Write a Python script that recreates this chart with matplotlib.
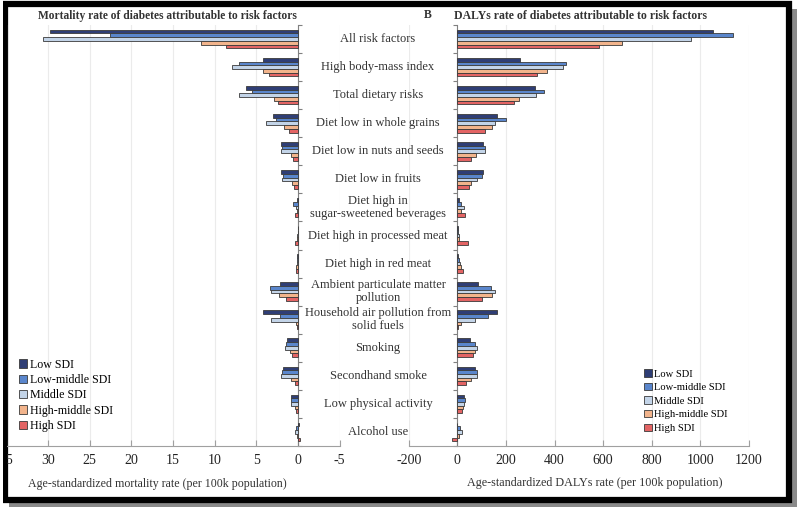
import matplotlib
matplotlib.use('Agg')
import matplotlib.pyplot as plt
from matplotlib.patches import Rectangle
from matplotlib.transforms import blended_transform_factory
import numpy as np

plt.rcParams['font.family'] = ['Liberation Serif', 'DejaVu Serif']
plt.rcParams['axes.unicode_minus'] = False

categories = [
    "All risk factors",
    "High body-mass index",
    "Total dietary risks",
    "Diet low in whole grains",
    "Diet low in nuts and seeds",
    "Diet low in fruits",
    "Diet high in\nsugar-sweetened beverages",
    "Diet high in processed meat",
    "Diet high in red meat",
    "Ambient particulate matter\npollution",
    "Household air pollution from\nsolid fuels",
    "Smoking",
    "Secondhand smoke",
    "Low physical activity",
    "Alcohol use",
]
groups = ["Low SDI", "Low-middle SDI", "Middle SDI", "High-middle SDI", "High SDI"]
colors = ["#2F3E75", "#5A86CC", "#C3D4E8", "#F2B48C", "#E36464"]

# Age-standardized mortality rate (per 100k)
mort_low = [29.8, 4.2, 6.2, 3.0, 2.0, 2.0, 0.1, 0.05, 0.1, 2.2, 4.2, 1.3, 1.8, 0.8, -0.1]
mort_lowmid = [22.6, 7.1, 5.5, 2.6, 1.9, 1.8, 0.55, 0.05, 0.1, 3.4, 2.2, 1.4, 1.9, 0.8, 0.25]
mort_mid = [30.6, 7.9, 7.1, 3.8, 2.1, 1.9, 0.2, 0.1, 0.1, 3.3, 3.2, 1.6, 2.0, 0.9, 0.4]
mort_highmid = [11.6, 4.2, 2.9, 1.7, 0.9, 0.7, 0.1, 0.1, 0.2, 2.3, 0.3, 1.0, 0.9, 0.4, 0.1]
mort_high = [8.6, 3.5, 2.4, 1.1, 0.6, 0.5, 0.35, 0.4, 0.3, 1.4, 0.1, 0.7, 0.4, 0.3, -0.2]

# Age-standardized DALYs rate (per 100k)
daly_low = [1053, 258, 320, 165, 104, 104, 8, 3, 3, 87, 162, 52, 73, 27, -2]
daly_lowmid = [1133, 447, 358, 199, 114, 100, 15, 3, 8, 137, 127, 73, 82, 32, 10]
daly_mid = [960, 436, 322, 155, 112, 80, 29, 5, 12, 155, 72, 80, 82, 27, 18]
daly_highmid = [676, 368, 255, 141, 76, 58, 15, 5, 16, 144, 17, 73, 55, 22, 8]
daly_high = [583, 327, 235, 114, 55, 47, 32, 42, 22, 103, 3, 63, 34, 19, -20]

mort_ticks = [35, 30, 25, 20, 15, 10, 5, 0, -5]
daly_ticks = [-200, 0, 200, 400, 600, 800, 1000, 1200]

mort = [mort_low, mort_lowmid, mort_mid, mort_highmid, mort_high]
daly = [daly_low, daly_lowmid, daly_mid, daly_highmid, daly_high]

W, H = 800, 512
fig = plt.figure(figsize=(8, 5.12), dpi=100)

def fx(px):
    return px / W

def fy(py):
    return 1 - py / H

# outer frame with drop shadow (behind the axes)
fig.patches.append(Rectangle((fx(9), fy(507)), fx(797) - fx(9), fy(9) - fy(507),
                             transform=fig.transFigure, facecolor='#8A8A8A',
                             edgecolor='none', zorder=-3))
fig.patches.append(Rectangle((fx(5), fy(500)), fx(789) - fx(5), fy(4) - fy(500),
                             transform=fig.transFigure, facecolor='white',
                             edgecolor='black', linewidth=4.5, zorder=-2))

ax_top, ax_bot = 25, 446
ax1 = fig.add_axes([fx(6.4), fy(ax_bot), fx(339.7 - 6.4), (ax_bot - ax_top) / H])
ax2 = fig.add_axes([fx(408.7), fy(ax_bot), fx(749 - 408.7), (ax_bot - ax_top) / H])

n = len(categories)
y = np.arange(n)
bh = 0.133
offsets = (np.arange(5) - 2) * bh

for ax, data, ticks in ((ax1, mort, mort_ticks), (ax2, daly, daly_ticks)):
    ax.patch.set_visible(False)
    for i, vals in enumerate(data):
        ax.barh(y + offsets[i], vals, height=bh, color=colors[i],
                edgecolor="#3A3A3A", linewidth=0.6, label=groups[i], zorder=3)
    ax.set_ylim(n - 0.5, -0.5)
    ax.set_yticks(np.arange(n + 1) - 0.5)
    ax.set_yticklabels([])
    ax.spines['top'].set_visible(False)
    ax.spines['right'].set_visible(False)
    ax.spines['left'].set_position(('data', 0))
    ax.spines['left'].set_color('#808080')
    ax.spines['left'].set_linewidth(0.8)
    ax.spines['bottom'].set_color('#A0A0A0')
    ax.spines['bottom'].set_linewidth(0.8)
    ax.grid(axis='x', color='#EBEBEB', linewidth=0.8, zorder=0)
    ax.set_xticks(ticks)
    ax.set_xticklabels([str(t) for t in ticks], fontfamily='Liberation Serif',
                       fontsize=10, color='#222222')
    ax.tick_params(axis='x', direction='in', length=4, color='#A0A0A0', pad=6)
    ax.set_axisbelow(True)

ax1.set_xlim(35, -5)
ax1.tick_params(axis='y', direction='in', length=3, color='#808080')
ax2.set_xlim(-200, 1200)
ax2.tick_params(axis='y', direction='out', length=3, color='#808080')

# white mask to the left of the frame (hides the clipped "35" tick label part)
fig.patches.append(Rectangle((0, 0), fx(3), 1, transform=fig.transFigure,
                             facecolor='white', edgecolor='none', zorder=9))
fig.patches.append(Rectangle((fx(3), fy(500)), fx(4), fy(4) - fy(500),
                             transform=fig.transFigure, facecolor='black',
                             edgecolor='none', zorder=10))

# category labels in the middle column
tr = blended_transform_factory(fig.transFigure, ax1.transData)
for i, c in enumerate(categories):
    fig.text(fx(378), i, c, transform=tr, ha='center', va='center',
             fontsize=9, color='#333333', linespacing=1.12, zorder=5)

# titles
fig.text(fx(167), fy(16), "Mortality rate of diabetes attributable to risk factors",
         ha='center', va='center', fontsize=8.3, fontweight='bold', color='#333333')
fig.text(fx(428), fy(15), "B", ha='center', va='center', fontsize=8.5,
         fontweight='bold', color='#333333')
fig.text(fx(581), fy(16), "DALYs rate of diabetes attributable to risk factors",
         ha='center', va='center', fontsize=8.5, fontweight='bold', color='#333333')

# axis labels
fig.text(fx(157), fy(484), "Age-standardized mortality rate (per 100k population)",
         ha='center', va='center', fontsize=8.6, color='#333333')
fig.text(fx(595), fy(483), "Age-standardized DALYs rate (per 100k population)",
         ha='center', va='center', fontsize=8.7, color='#333333')

# legends
h1, l1 = ax1.get_legend_handles_labels()
fig.legend(h1, l1, loc='upper left', bbox_to_anchor=(fx(14), fy(354)),
           frameon=False, fontsize=8.6, handlelength=0.7, handleheight=0.7,
           handletextpad=0.2, labelspacing=0.28, borderaxespad=0)
h2, l2 = ax2.get_legend_handles_labels()
fig.legend(h2, l2, loc='upper left', bbox_to_anchor=(fx(640), fy(365)),
           frameon=False, fontsize=7.6, handlelength=0.7, handleheight=0.7,
           handletextpad=0.2, labelspacing=0.4, borderaxespad=0)

fig.savefig("out.png", dpi=100)
